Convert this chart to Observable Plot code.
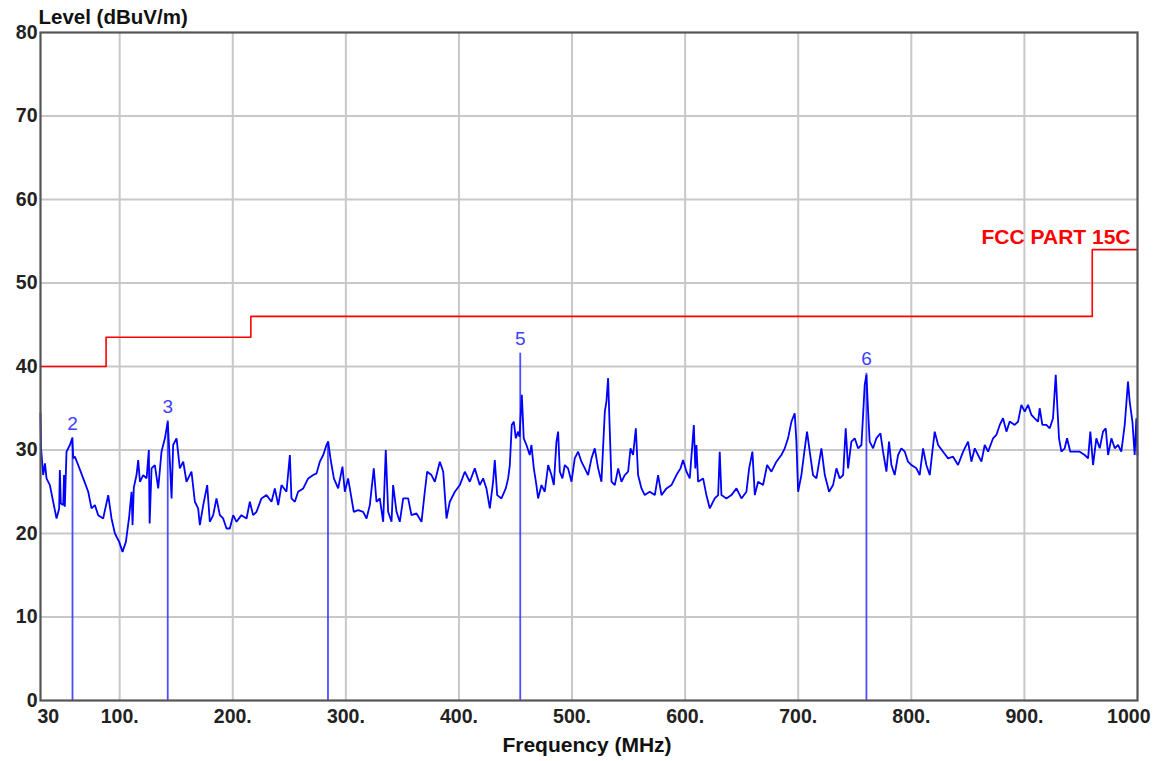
<!DOCTYPE html>
<html>
<head>
<meta charset="utf-8">
<script src="https://cdn.jsdelivr.net/npm/d3@7"></script>
<script src="https://cdn.jsdelivr.net/npm/@observablehq/plot@0.6"></script>
<style>
  html, body { margin: 0; padding: 0; background: #fff; overflow: hidden; }
  #chart svg { display: block; font-family: "Liberation Sans", Arial, sans-serif; }
</style>
</head>
<body>
<div id="chart"></div>
<script>
// Measured trace (frequency MHz, level dBuV/m)
const traceFreq = [
  30,30.5,32.4,34,35.3,38.3,41.2,44.2,46.5,47.1,48,50.1,50.8,51.5,53,56,58,59,60.4,63.3,67.8,72.2,75.1,78.1,81,85.4,89.9,92.8,95.8,99.6,102.5,105.5,108.4,110.5,111.4,112.5,114.9,116.4,117.9,120.8,123.8,125.8,126.5,128.2,131.1,134.1,137,140,142.5,144.4,145.9,147.3,150.3,153.2,156.2,159.1,163.5,166.5,169.4,170.9,173.9,177.4,179.7,182.7,185.6,188.6,191.5,194.5,197.4,200.4,203.3,207.7,212.2,215.1,218,
  221,225.4,229.8,234.3,237.2,240.2,243.1,247.5,250.5,251.9,254.9,257.8,262.3,266.7,271.1,274.1,277,280,282.9,284.4,286.4,289.4,293.2,297,299.1,302,305,307,310.9,315.3,318.3,321.2,324.7,327.1,330,333,335.3,337.4,340.4,341.8,344.8,347.7,350.7,355.1,358,362.5,366.9,369.8,371.9,375.7,378.7,383.1,386.1,389,391.9,396.4,400.8,405.2,409.6,414,
  418.4,421.4,424.3,427.3,430.2,431.7,433.8,437.6,441.4,443.5,445,446.7,448.5,450.3,452.3,453.5,455.6,457.3,459.7,462.6,464.1,466.2,468.5,470,473,475.9,478.9,481.8,483.9,486.2,487.7,489.2,491.5,493.6,496.5,499.5,502.4,505.4,508.3,511.3,514.2,517.2,520.1,523.1,526,529,530.4,531.9,533.4,534.9,537.8,540.8,543.7,546.6,549.6,551.7,554,556.4,558.4,561.4,564.3,568.7,573.2,576.1,579.1,583.5,587.9,592.3,595.9,598.2,601.2,604.1,607.7,609,610,
  611.5,615.9,618.8,621.8,626.2,629.2,630.6,632.1,636.5,640.9,645.4,649.8,654.2,656.6,659.5,661.6,664.5,668.9,672.5,676.3,680.7,685.1,688.1,691,694,696.9,698.4,699.9,702.8,705.8,707.8,710.2,713.1,716.1,720.5,723.5,727.3,730.8,733.8,736.7,739.7,742,744.1,747,750,752.9,755.9,758.8,760.3,761.8,763.2,766.2,769.1,772.7,775,778,780.3,782.4,785.3,788.3,791.2,794.2,797.1,800.1,804.5,
  807.4,810.4,813.3,816.3,818.6,820.7,823.7,828.1,832.5,836.9,841.3,845.8,850.2,853.1,856.1,859,862,864.9,867.9,872.3,875.2,878.2,881.1,884.1,887,891.4,894.4,897.3,900.3,903.2,906.2,909.1,912.1,913.5,915.9,919.4,922.4,925.3,927.7,929.2,930.6,932.7,935.6,937.7,940.6,944.5,948.9,953.3,956.3,958.3,960.7,963.6,966.6,969.5,971.9,974,976.9,979.9,982.8,985.7,988.7,991.6,993.1,995.5,997.5,999,1000
];
const traceLevel = [
  34.4,30.2,27,28.4,26.6,25.8,23.8,21.8,23,27.6,23.6,23.4,27,23.2,29.8,30.6,31.4,29,29.2,28.2,26.6,25,23,23.4,22.2,21.8,24.6,21.8,20,19,17.8,19,22,25,21,25.5,27,28.8,26.2,27,26.6,30,21.2,27.8,28.2,25.4,29.8,31.4,33.4,28.6,24.2,30.6,31.4,27.8,28.6,26.2,27.4,23.8,23,21,23.4,25.8,21.4,22.2,24.2,22.2,21.8,20.6,20.6,22.2,21.4,22.2,21.8,23.8,22.2,
  22.6,24.2,24.6,23.8,25.4,23.4,25.8,25,29.4,24.2,23.8,25,25.4,26.6,27,27.2,28.6,29.4,30.6,31,29,26.6,25.4,28,25,26.6,24.2,22.6,22.8,22.6,21.8,23.4,27.8,23.8,24.2,21.4,30,22.6,21.4,25.8,22.6,21.4,24.2,24.2,22.2,22.4,21.4,25,27.4,27,26.2,28.6,27.4,21.8,23.8,25,25.8,27.4,26.2,27.8,
  25.8,26.6,25.4,23,26.2,28.8,24.6,24.2,25.4,26.6,28.2,33,33.4,31.4,32.2,31.6,36.6,31.4,30.6,29.4,30.6,27.8,25.8,24.2,25.8,25,28.2,27,25.8,31,32.2,27.4,26.6,28.2,27.8,26.2,29,29.8,28.6,27.8,27,29,30.2,27.8,26.2,34.6,35.8,38.6,32.2,26.2,25.8,27.8,26.2,27,27.4,30.2,29.4,32.6,27,25.4,24.6,25,24.6,27,24.6,25.4,25.8,27,27.8,28.8,27.4,26.6,33,27.8,30.6,
  26.2,26.6,24.6,23,24.2,24.6,29.8,24.6,24.2,24.6,25.4,24.2,25,27.8,29.8,24.6,26.2,25.8,28.2,27.4,28.6,29.4,30.2,31.4,33.4,34.4,31,25,27,30.2,32.2,29.8,27,26.6,30.2,27,25,25.8,27.8,26.6,27,32.6,27.8,31,31.4,30.2,30.6,37.8,39,34.6,31,30.2,31.4,32,29.8,27.4,31,28.2,27,29.4,30.2,29.8,28.6,28.2,27.8,
  27,30.2,28.2,27,29.8,32.2,30.6,29.8,29,29.2,28.2,29.8,31,28.6,30.2,29.4,28.6,30.6,29.8,31.4,31.8,33,33.8,32.2,33.4,33,33.4,35.4,34.6,35.4,34.2,33.8,33.4,35,33,33,32.6,33.8,39,35,31.4,29.8,30.2,31.4,29.8,29.8,29.8,29.4,29,32.2,28.2,31.4,30.2,32.2,32.6,29.4,31.4,30.2,30.6,29.8,33,38.2,35.8,33.4,29.4,33.8,29.4
];

// FCC Part 15C limit (step after each frequency)
const limitFreq  = [30, 88, 216, 960, 1000];
const limitLevel = [40, 43.5, 46, 54, 54];
const limitName  = "FCC PART 15C";

// Peak markers
const markerFreq  = [58.3, 142.5, 284.2, 454.2, 760.3];
const markerLevel = [31.5, 33.5, 31.0, 41.6, 39.2];
const markerLabel = ["2", "3", "", "5", "6"];

// Axes
const xTicks = [100, 200, 300, 400, 500, 600, 700, 800, 900];
const xTickLabels = ["100.", "200.", "300.", "400.", "500.", "600.", "700.", "800.", "900."];
const yTicks = [0, 10, 20, 30, 40, 50, 60, 70, 80];
const xTitle = "Frequency (MHz)";
const yTitle = "Level (dBuV/m)";

const trace = traceFreq.map((f, i) => ({f, v: traceLevel[i]}));
const limit = limitFreq.map((f, i) => ({f, v: limitLevel[i]}));
const markers = markerFreq.map((f, i) => ({f, v: markerLevel[i], label: markerLabel[i]}));

const font = "Liberation Sans, Arial, sans-serif";
const tickFont = 19.5;

const chart = Plot.plot({
  width: 1171,
  height: 761,
  marginLeft: 40,
  marginRight: 34,
  marginTop: 32,
  marginBottom: 61,
  style: {fontFamily: font, background: "#fff"},
  x: {domain: [30, 1000], label: null},
  y: {domain: [0, 80], label: null},
  marks: [
    Plot.gridX(xTicks, {stroke: "#c8c8c8", strokeOpacity: 1, strokeWidth: 2}),
    Plot.gridY(yTicks.slice(1, -1), {stroke: "#c8c8c8", strokeOpacity: 1, strokeWidth: 2}),
    Plot.axisX(xTicks, {tickSize: 0, tickPadding: 9, tickFormat: (d) => xTickLabels[xTicks.indexOf(d)], fontSize: tickFont, fontWeight: "bold", fill: "#222", label: null}),
    Plot.text([30], {x: d => d, frameAnchor: "bottom", lineAnchor: "middle", textAnchor: "start", dx: -3, dy: 16, text: d => String(d), fontSize: tickFont, fontWeight: "bold", fill: "#222"}),
    Plot.text([1000], {x: d => d, frameAnchor: "bottom", lineAnchor: "middle", textAnchor: "end", dx: 13, dy: 16, text: d => String(d), fontSize: tickFont, fontWeight: "bold", fill: "#222"}),
    Plot.axisY(yTicks, {tickSize: 0, tickPadding: 3, fontSize: tickFont, fontWeight: "bold", fill: "#222", label: null}),
    Plot.text([yTitle], {frameAnchor: "top-left", lineAnchor: "middle", textAnchor: "start", dx: -2, dy: -15, fontSize: 20.5, fontWeight: "bold", fill: "#111"}),
    Plot.text([xTitle], {frameAnchor: "bottom", lineAnchor: "middle", dy: 45, dx: -2, fontSize: 21, fontWeight: "bold", fill: "#111"}),
    Plot.line(limit, {x: "f", y: "v", curve: "step-after", stroke: "#ff0000", strokeWidth: 1.6}),
    Plot.text([limitName], {x: [1000], y: [limitLevel[limitLevel.length - 1]], lineAnchor: "middle", textAnchor: "end", dx: -7, dy: -12, fontSize: 21, fontWeight: "bold", fill: "#ff0000"}),
    Plot.ruleX(markers, {x: "f", y1: 0, y2: "v", stroke: "#3a3aff", strokeWidth: 1.8, strokeOpacity: 0.9}),
    Plot.line(trace, {x: "f", y: "v", stroke: "#0000ff", strokeWidth: 1.8, strokeLinejoin: "miter"}),
    Plot.text(markers, {x: "f", y: "v", text: "label", dy: -14, fontSize: 19, fill: "#4040ff"}),
    Plot.frame({stroke: "#555", strokeWidth: 2.2})
  ]
});
document.getElementById("chart").appendChild(chart);
</script>
</body>
</html>
